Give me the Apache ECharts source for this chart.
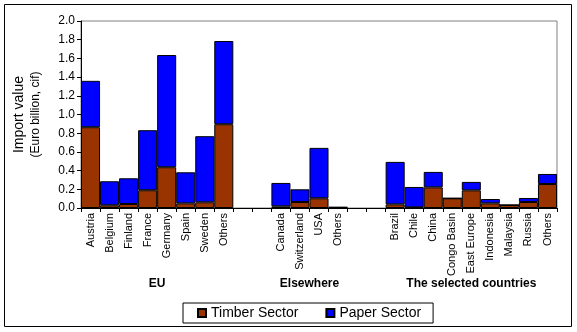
<!DOCTYPE html>
<html><head><meta charset="utf-8">
<script src="https://cdn.jsdelivr.net/npm/echarts@6/dist/echarts.min.js"></script>
<style>html,body{margin:0;padding:0;background:#fff}#c{width:577px;height:332px}</style>
</head><body><div id="c"></div>
<script>
const categories = ['Austria','Belgium','Finland','France','Germany','Spain','Sweden','Others','','',
  'Canada','Switzerland','USA','Others','','',
  'Brazil','Chile','China','Congo Basin','East Europe','Indonesia','Malaysia','Russia','Others'];
const timber = [0.864,0.029,0.043,0.19,0.436,0.05,0.061,0.896,null,null,
  0.018,0.064,0.104,0.005,null,null,
  0.039,0.007,0.221,0.104,0.189,0.05,0.032,0.064,0.257];
const paper = [0.496,0.257,0.275,0.642,1.2,0.332,0.707,0.89,null,null,
  0.25,0.136,0.539,0.005,null,null,
  0.454,0.218,0.165,0,0.09,0.046,0,0.043,0.107];
const groups = [{name:'EU',from:0,to:7},{name:'Elsewhere',from:10,to:13},{name:'The selected countries',from:16,to:24}];
const yTicks = {min:0,max:2.0,interval:0.2};

const font = 'Liberation Sans, Arial, sans-serif';
const chart = echarts.init(document.getElementById('c'));
chart.setOption({
  animation:false,
  textStyle:{fontFamily:font},
  grid:{left:81,right:20,top:21,bottom:124,show:true,borderColor:'#808080',borderWidth:1,backgroundColor:'transparent'},
  legend:{left:183,top:303,itemWidth:8,itemHeight:8,itemGap:27,padding:[3,12,3,14],
    borderColor:'#000',borderWidth:1,borderRadius:0,
    textStyle:{fontSize:14,color:'#000',fontFamily:font},
    data:[{name:'Timber Sector',icon:'rect'},{name:'Paper Sector',icon:'rect'}]},
  xAxis:{type:'category',data:categories,
    axisLine:{lineStyle:{color:'#000',width:1}},
    axisTick:{show:true,length:4,lineStyle:{color:'#000'},interval:0},
    axisLabel:{rotate:90,interval:0,fontSize:11,color:'#000',margin:5,fontFamily:font},
    splitLine:{show:false}},
  yAxis:{type:'value',min:yTicks.min,max:yTicks.max,interval:yTicks.interval,
    name:'{a|Import value}\n{b|(Euro billion, cif)}',nameLocation:'middle',nameGap:38,nameRotate:90,
    nameTextStyle:{rich:{a:{fontSize:14,color:'#000',fontFamily:font,lineHeight:17},b:{fontSize:12,color:'#000',fontFamily:font,lineHeight:15}}},
    axisLine:{show:true,lineStyle:{color:'#000'}},
    axisTick:{show:true,length:4,lineStyle:{color:'#000'}},
    axisLabel:{fontSize:12,color:'#000',margin:6,formatter:v=>v.toFixed(1),fontFamily:font},
    splitLine:{show:false}},
  series:[
    {name:'Timber Sector',type:'bar',stack:'s',data:timber,barCategoryGap:0,barGap:0,
      itemStyle:{color:'#993300',borderColor:'#000',borderWidth:1}},
    {name:'Paper Sector',type:'bar',stack:'s',data:paper,barCategoryGap:0,barGap:0,
      itemStyle:{color:'#0000FF',borderColor:'#000',borderWidth:1}}
  ]
});
const gtexts = groups.map(g=>{
  const x1 = chart.convertToPixel({xAxisIndex:0},g.from);
  const x2 = chart.convertToPixel({xAxisIndex:0},g.to);
  return {type:'text',x:(x1+x2)/2,y:278,style:{text:g.name,fill:'#000',font:'bold 12px '+font,textAlign:'center'}};
});
chart.setOption({graphic:[
  {type:'rect',shape:{x:4.5,y:4.5,width:567,height:322},style:{fill:'none',stroke:'#000',lineWidth:1},silent:true,z:-1},
  ...gtexts
]});
</script></body></html>
